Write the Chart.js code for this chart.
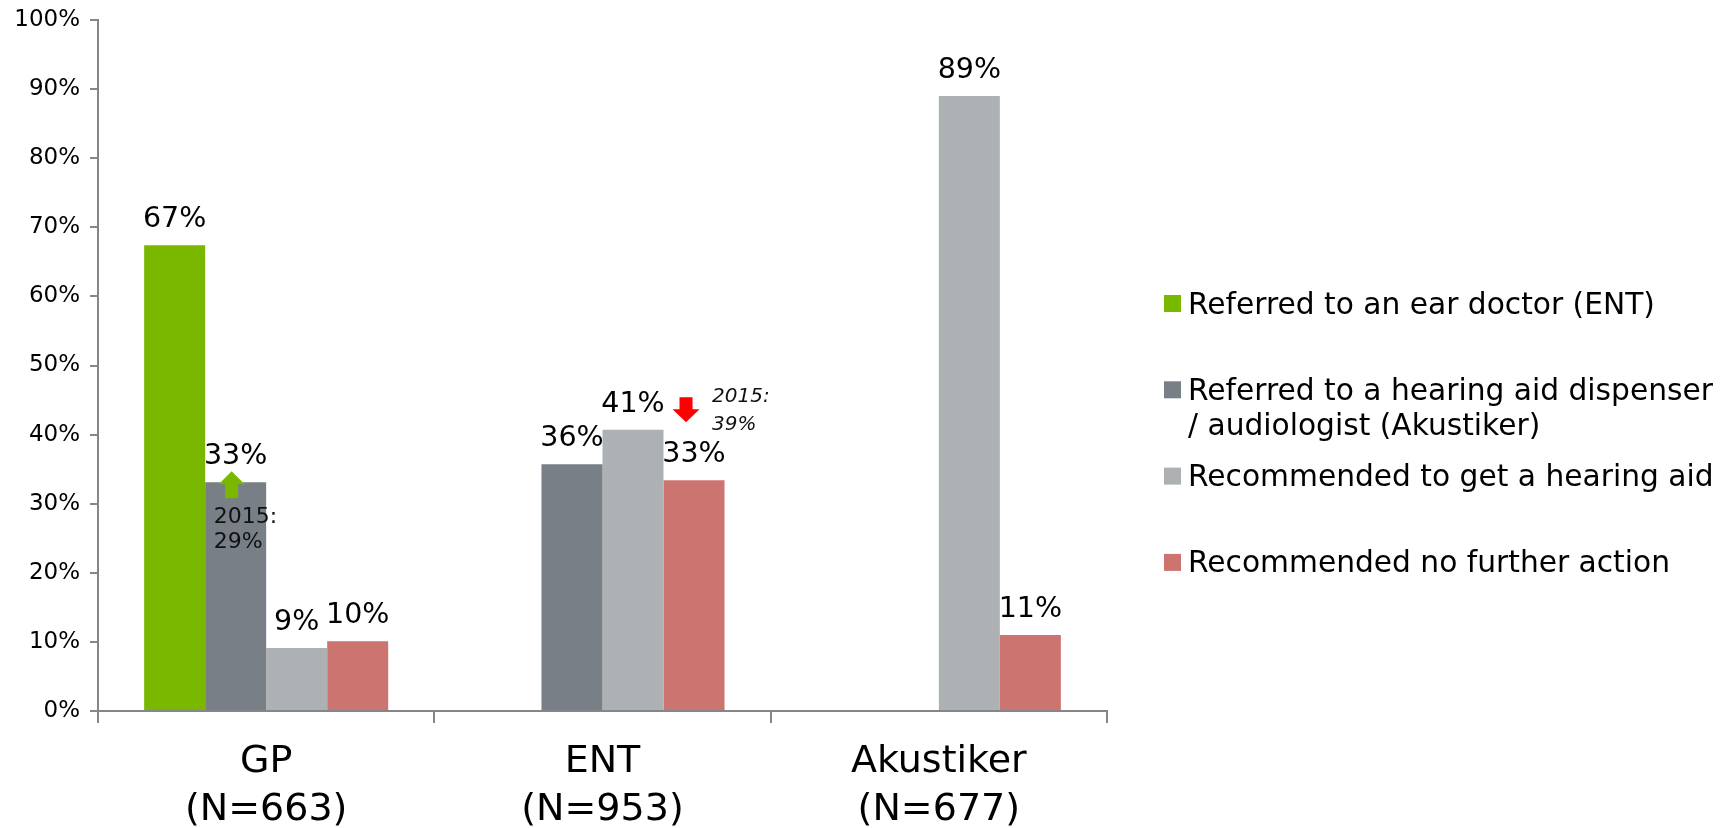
<!DOCTYPE html>
<html>
<head>
<meta charset="utf-8">
<script src="https://cdn.jsdelivr.net/npm/chart.js@4"></script>
<style>
  html, body { margin: 0; padding: 0; background: #fff; }
  #wrap { width: 1722px; height: 828px; }
</style>
</head>
<body>
<div id="wrap"><canvas id="referralChart" width="1722" height="828"></canvas></div>
<script>
// categories and series (percent)
const categories = [['GP', '(N=663)'], ['ENT', '(N=953)'], ['Akustiker', '(N=677)']];
const seriesNames = [
  ['Referred to an ear doctor (ENT)'],
  ['Referred to a hearing aid dispenser', '/ audiologist (Akustiker)'],
  ['Recommended to get a hearing aid'],
  ['Recommended no further action']
];
const referredEnt = [67.4, null, null];
const referredAkustiker = [33.1, 35.7, null];
const recommendedAid = [9.1, 40.7, 89.0];
const noFurtherAction = [10.1, 33.4, 11.0];
const seriesColors = ['#7ab800', '#797f86', '#adb1b4', '#cc7470'];

// 2015 comparison notes: [dataset, category, direction, lines]
const notes2015 = [
  [1, 0, 'up', ['2015:', '29%']],
  [3, 1, 'down', ['2015:', '39%']]
];

const FONT = "'DejaVu Sans', Verdana, sans-serif";
const axisGrey = '#868686';

const valueLabels = {
  id: 'valueLabels',
  afterDatasetsDraw(chart) {
    const ctx = chart.ctx;
    ctx.save();
    ctx.font = '28.5px ' + FONT;
    ctx.fillStyle = '#000';
    ctx.textAlign = 'center';
    ctx.textBaseline = 'alphabetic';
    chart.data.datasets.forEach((ds, di) => {
      chart.getDatasetMeta(di).data.forEach((bar, i) => {
        const v = ds.data[i];
        if (v === null || v === undefined) return;
        ctx.fillText(Math.round(v) + '%', bar.x, bar.y - 18);
      });
    });
    ctx.restore();
  }
};

const trendNotes = {
  id: 'trendNotes',
  afterDatasetsDraw(chart) {
    const ctx = chart.ctx;
    ctx.save();
    notes2015.forEach(([di, idx, dir, lines]) => {
      const bar = chart.getDatasetMeta(di).data[idx];
      ctx.beginPath();
      if (dir === 'up') {
        const cx = bar.x - 4, tip = bar.y - 11;
        ctx.fillStyle = '#7ab800';
        ctx.moveTo(cx, tip);
        ctx.lineTo(cx + 13, tip + 13);
        ctx.lineTo(cx + 6.5, tip + 13);
        ctx.lineTo(cx + 6.5, tip + 27);
        ctx.lineTo(cx - 6.5, tip + 27);
        ctx.lineTo(cx - 6.5, tip + 13);
        ctx.lineTo(cx - 13, tip + 13);
        ctx.closePath();
        ctx.fill();
        ctx.font = '22px ' + FONT;
        ctx.fillStyle = '#111';
        ctx.textAlign = 'left';
        ctx.fillText(lines[0], bar.x - 22, bar.y + 41);
        ctx.fillText(lines[1], bar.x - 22, bar.y + 66);
      } else {
        const cx = bar.x - 8, top = bar.y - 83;
        ctx.fillStyle = '#ff0000';
        ctx.moveTo(cx - 6.5, top);
        ctx.lineTo(cx + 6.5, top);
        ctx.lineTo(cx + 6.5, top + 12);
        ctx.lineTo(cx + 13.5, top + 12);
        ctx.lineTo(cx, top + 25);
        ctx.lineTo(cx - 13.5, top + 12);
        ctx.lineTo(cx - 6.5, top + 12);
        ctx.closePath();
        ctx.fill();
        ctx.font = 'italic 20px ' + FONT;
        ctx.fillStyle = '#111';
        ctx.textAlign = 'left';
        ctx.fillText(lines[0], bar.x + 18, bar.y - 78);
        ctx.fillText(lines[1], bar.x + 18, bar.y - 50);
      }
    });
    ctx.restore();
  }
};

const sideLegend = {
  id: 'sideLegend',
  afterDraw(chart) {
    const ctx = chart.ctx;
    const area = chart.chartArea;
    const x0 = area.right + 57;
    const y0 = area.top + 283.5;
    ctx.save();
    ctx.font = '29.7px ' + FONT;
    ctx.textAlign = 'left';
    ctx.textBaseline = 'alphabetic';
    chart.data.datasets.forEach((ds, i) => {
      const cy = y0 + i * 86.3;
      ctx.fillStyle = ds.backgroundColor;
      ctx.fillRect(x0, cy - 8.5, 17, 17);
      ctx.fillStyle = '#000';
      seriesNames[i].forEach((line, j) => {
        ctx.fillText(line, x0 + 24, cy + 10 + j * 35);
      });
    });
    ctx.restore();
  }
};

const sets = [referredEnt, referredAkustiker, recommendedAid, noFurtherAction];

new Chart(document.getElementById('referralChart').getContext('2d'), {
  type: 'bar',
  data: {
    labels: categories,
    datasets: sets.map((d, i) => ({
      label: seriesNames[i].join(' '),
      data: d,
      backgroundColor: seriesColors[i],
      borderWidth: 0,
      categoryPercentage: 0.7256,
      barPercentage: 1.0
    }))
  },
  options: {
    responsive: false,
    animation: false,
    layout: { padding: { top: 20, right: 615, left: 0, bottom: 0 } },
    plugins: {
      legend: { display: false },
      tooltip: { enabled: false }
    },
    scales: {
      x: {
        afterFit: s => { s.height = 117; },
        grid: {
          offset: true,
          drawOnChartArea: false,
          drawTicks: true,
          tickLength: 12,
          color: axisGrey,
          lineWidth: 2
        },
        border: { color: axisGrey, width: 2 },
        ticks: {
          color: '#000',
          padding: 16,
          font: { family: FONT, size: 38, lineHeight: 1.24 }
        }
      },
      y: {
        min: 0,
        max: 100,
        afterFit: s => { s.width = 98; s.paddingTop = 0; s.paddingBottom = 0; },
        grid: {
          drawOnChartArea: false,
          drawTicks: true,
          tickLength: 8,
          color: axisGrey,
          lineWidth: 2
        },
        border: { color: axisGrey, width: 2 },
        ticks: {
          stepSize: 10,
          color: '#000',
          padding: 10,
          font: { family: FONT, size: 23 },
          callback: v => v + '%'
        }
      }
    }
  },
  plugins: [valueLabels, trendNotes, sideLegend]
});
</script>
</body>
</html>
